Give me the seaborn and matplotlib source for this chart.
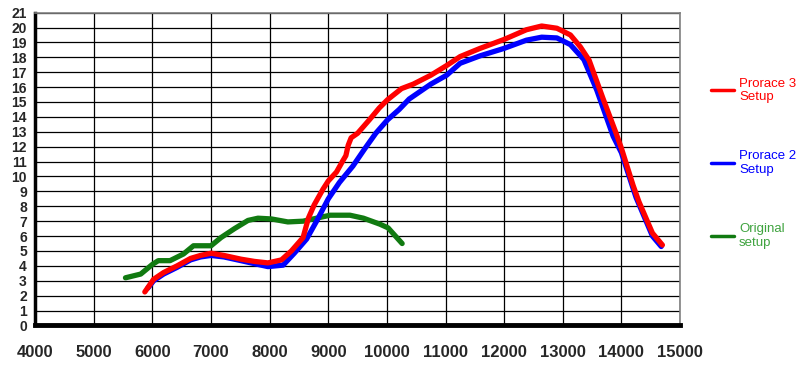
import numpy as np
import pandas as pd
import matplotlib
matplotlib.use("Agg")
import matplotlib.pyplot as plt
import seaborn as sns

# Dyno curves (rpm vs output)
rpm_p3 = [5870, 6020, 6190, 6420, 6650, 6820, 7000, 7220, 7510, 7740, 7970, 8200, 8370,
          8570, 8660, 8760, 8910, 9000, 9140, 9240, 9300, 9340, 9390, 9500, 9700, 9870, 10010,
          10250, 10450, 10750, 11020, 11250, 11590, 12000, 12380, 12640,
          12900, 13130, 13300, 13450, 13690, 13910, 14000, 14200, 14300, 14530, 14700]
val_p3 = [2.25, 3.1, 3.55, 4.0, 4.5, 4.7, 4.85, 4.7, 4.45, 4.3, 4.2, 4.4, 5.0,
          5.9, 7.2, 8.1, 9.15, 9.7, 10.3, 11.0, 11.4, 12.1, 12.6, 12.9, 13.8, 14.6, 15.15,
          15.9, 16.2, 16.8, 17.45, 18.05, 18.6, 19.2, 19.85, 20.1,
          19.95, 19.5, 18.7, 17.8, 15.2, 12.9, 11.9, 9.4, 8.3, 6.2, 5.4]

rpm_p2 = [5920, 6020, 6190, 6420, 6650, 6820, 7000, 7220, 7510, 7740, 7970, 8230, 8420,
          8630, 8800, 9000, 9190, 9420, 9620, 9810, 10010, 10210, 10380,
          10750, 11020, 11250, 11590, 12000, 12380, 12640, 12900, 13130, 13360,
          13580, 13860, 14000, 14250, 14530, 14680]
val_p2 = [2.5, 3.0, 3.45, 3.9, 4.4, 4.6, 4.7, 4.6, 4.35, 4.15, 3.95, 4.05, 4.85,
          5.8, 7.0, 8.5, 9.6, 10.7, 11.85, 12.9, 13.8, 14.5, 15.2,
          16.2, 16.8, 17.6, 18.1, 18.6, 19.15, 19.35, 19.3, 18.85, 17.85,
          15.8, 12.7, 11.6, 8.6, 6.0, 5.3]

rpm_orig = [5540, 5800, 6000, 6100, 6300, 6530, 6700, 7000, 7170, 7400, 7630, 7800, 8030,
            8310, 8570, 8800, 9030, 9370, 9600, 9880, 10020, 10260]
val_orig = [3.2, 3.45, 4.1, 4.35, 4.35, 4.8, 5.35, 5.35, 5.9, 6.5, 7.05, 7.2, 7.15,
            6.95, 7.0, 7.2, 7.4, 7.4, 7.2, 6.8, 6.55, 5.5]

series_names = ["Prorace 3\nSetup", "Prorace 2\nSetup", "Original\nsetup"]
line_colors = ["#ff0000", "#0000ff", "#117a11"]
text_colors = ["#ff0000", "#0000ff", "#3fa33f"]

x_ticks = list(range(4000, 15001, 1000))
y_ticks = list(range(0, 22))

df = pd.concat([
    pd.DataFrame({"rpm": rpm_p3, "value": val_p3, "setup": series_names[0]}),
    pd.DataFrame({"rpm": rpm_p2, "value": val_p2, "setup": series_names[1]}),
    pd.DataFrame({"rpm": rpm_orig, "value": val_orig, "setup": series_names[2]}),
], ignore_index=True)

sns.set_style("white")
plt.rcParams["font.family"] = ["Liberation Sans", "DejaVu Sans"]

fig = plt.figure(figsize=(8, 3.82), dpi=100)
ax = fig.add_axes([0.044, 0.148, 0.806, 0.819])

# draw green first, then blue, red on top
for name, col in [(series_names[2], line_colors[2]), (series_names[1], line_colors[1]),
                  (series_names[0], line_colors[0])]:
    sns.lineplot(data=df[df["setup"] == name], x="rpm", y="value", color=col,
                 linewidth=3.8, sort=False, estimator=None, ax=ax, label=name,
                 solid_capstyle="round", solid_joinstyle="round")

ax.set_xlim(4000, 15000)
ax.set_ylim(0, 21)
ax.set_xticks(x_ticks)
ax.set_yticks(y_ticks)
ax.grid(True, color="black", linewidth=0.9)
ax.set_axisbelow(True)
ax.set_xlabel("")
ax.set_ylabel("")

for side in ["top", "right"]:
    ax.spines[side].set_color("#808080")
    ax.spines[side].set_linewidth(1.2)
ax.spines["left"].set_color("black")
ax.spines["left"].set_linewidth(2.5)
ax.spines["bottom"].set_color("black")
ax.spines["bottom"].set_linewidth(3.5)

ax.tick_params(axis="y", direction="out", length=4, width=2.5, color="black",
               labelsize=10, pad=2)
ax.tick_params(axis="x", direction="out", length=5, width=2.5, color="black",
               labelsize=12, pad=9)
for lbl in ax.get_xticklabels() + ax.get_yticklabels():
    lbl.set_fontweight("bold")

# legend in the right margin, same order as the reference
handles, labels = ax.get_legend_handles_labels()
order = [labels.index(n) for n in series_names]
leg = ax.legend([handles[i] for i in order], [labels[i] for i in order],
                loc="upper left", bbox_to_anchor=(1.03, 0.83), frameon=False,
                handlelength=1.7, handletextpad=0.4, labelspacing=3.55,
                prop={"family": ["Liberation Sans Narrow", "Liberation Sans"], "size": 9.5})
for txt, col in zip(leg.get_texts(), text_colors):
    txt.set_color(col)
for h in leg.get_lines():
    h.set_linewidth(2.5)

fig.savefig("out.png", dpi=100)
